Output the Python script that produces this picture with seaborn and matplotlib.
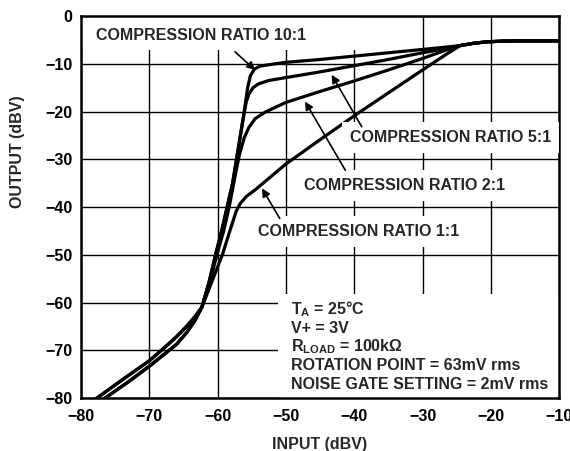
import matplotlib
matplotlib.use("Agg")
import matplotlib.pyplot as plt
from matplotlib.patches import Rectangle
import pandas as pd
import seaborn as sns

# values (input dBV, output dBV)
x_10 = [-77.7, -74, -70, -68, -66, -64.5, -63.3, -62.3, -61.2, -60.3, -59.4, -58.6, -57.8, -57.0,
        -56.2, -55.6, -55.2, -54.6, -53.8, -52, -50, -45, -40, -35, -30, -26.5, -24.5, -22.5,
        -20.5, -18, -15, -10]
y_10 = [-80, -76.3, -72.2, -69.8, -67.2, -65.0, -63.0, -61.0, -55.5, -50, -45, -40, -35, -28,
        -21, -15, -12.5, -11.1, -10.5, -10.1, -9.7, -9.1, -8.4, -7.7, -7.0, -6.5, -6.2, -5.7,
        -5.4, -5.25, -5.2, -5.2]

x_5 = [-77.6, -74, -70, -68, -66, -64.5, -63.3, -62.3, -61.2, -60.3, -59.4, -58.6, -57.8, -57.0,
       -56.2, -55.8, -55.4, -54.8, -54.0, -52.5, -50, -45, -40, -35, -30, -26.5, -24.5, -22.5,
       -20.5, -18, -15, -10]
y_5 = [-80, -76.2, -72.2, -69.7, -67.1, -64.9, -62.9, -61.0, -55.5, -50, -45, -40, -35, -28,
       -21, -18, -16.3, -15.0, -14.2, -13.5, -12.9, -11.7, -10.4, -9.1, -7.7, -6.8, -6.2, -5.7,
       -5.4, -5.25, -5.2, -5.2]

x_2 = [-76.5, -73, -70, -68, -66, -64.5, -63.3, -62.3, -61.1, -60.1, -59.1, -58.3, -57.5, -56.8,
       -56.1, -55.4, -54.5, -53, -50, -45, -40, -35, -30, -26.5, -24.5, -22.5, -20.5, -18, -15,
       -10]
y_2 = [-80, -76.6, -73.4, -71.1, -68.8, -66.3, -63.8, -61.0, -55.5, -50, -45, -40, -34, -29,
       -25.5, -23.3, -21.5, -20.1, -18.1, -15.8, -13.6, -11.3, -8.9, -7.1, -6.2, -5.7, -5.4,
       -5.25, -5.2, -5.2]

x_1 = [-76.4, -73, -70, -68, -66, -64.5, -63.3, -62.3, -60.8, -59.3, -58.2, -57.3, -56.7, -55.8,
       -54.5, -53, -50, -45, -40, -35, -30, -26.5, -24.5, -22.5, -20.5, -18, -15, -10]
y_1 = [-80, -76.5, -73.3, -71.0, -68.7, -66.2, -63.7, -61.0, -55.5, -50, -45, -41, -39.3, -37.8,
       -36.4, -34.6, -31.0, -25.9, -20.9, -16.1, -11.3, -8.0, -6.2, -5.7, -5.4, -5.25, -5.2, -5.2]

ratios = ["10:1", "5:1", "2:1", "1:1"]
x_ticks = [-80, -70, -60, -50, -40, -30, -20, -10]
y_ticks = [-80, -70, -60, -50, -40, -30, -20, -10, 0]

conditions = ["T$_\\mathrm{A}$ = 25°C", "V+ = 3V", "R$_\\mathrm{LOAD}$ = 100kΩ",
              "ROTATION POINT = 63mV rms", "NOISE GATE SETTING = 2mV rms"]

frames = []
for name, xs, ys in zip(ratios, [x_10, x_5, x_2, x_1], [y_10, y_5, y_2, y_1]):
    frames.append(pd.DataFrame({"input": xs, "output": ys, "ratio": name}))
df = pd.concat(frames, ignore_index=True)

sns.set_theme(style="white")
plt.rcParams["font.family"] = ["Liberation Sans", "DejaVu Sans"]
plt.rcParams["font.weight"] = "bold"
plt.rcParams["mathtext.fontset"] = "custom"
plt.rcParams["mathtext.rm"] = "Liberation Sans:bold"
plt.rcParams["mathtext.bf"] = "Liberation Sans:bold"
plt.rcParams["mathtext.it"] = "Liberation Sans:bold"

fs = 11.5

fig = plt.figure(figsize=(5.7, 4.51), dpi=100)
ax = fig.add_axes([0.142, 0.1175, 0.839, 0.847])

sns.lineplot(data=df, x="input", y="output", hue="ratio", units="ratio", estimator=None,
             sort=False, palette={r: "black" for r in ratios}, lw=2.3, legend=False, ax=ax)

ax.set_xlim(-80, -10)
ax.set_ylim(-80, 0)
ax.set_xticks(x_ticks)
ax.set_yticks(y_ticks)
ax.set_axisbelow(True)
ax.grid(True, color="black", lw=1.0)
for s in ax.spines.values():
    s.set_visible(True)
    s.set_color("black")
    s.set_linewidth(1.8)
ax.tick_params(axis="both", length=0, labelsize=fs, colors="black")
ax.tick_params(axis="x", pad=8)
ax.tick_params(axis="y", pad=6)
for lab in ax.get_xticklabels() + ax.get_yticklabels():
    lab.set_fontweight("bold")
ax.set_xlabel("")
ax.set_ylabel("")

fig.text(320 / 570, 1 - 444 / 451, "INPUT (dBV)", ha="center", va="center",
         fontsize=fs, fontweight="bold")
fig.text(18 / 570, 1 - 152 / 451, "OUTPUT (dBV)", ha="center", va="center", rotation=90,
         fontsize=fs, fontweight="bold")

# white areas that break the grid behind the labels
ax.add_patch(Rectangle((-80, -7.1), 41, 7.1, fc="white", ec="none", zorder=1))
ax.add_patch(Rectangle((-51.2, -80), 41.2, 21.7, fc="white", ec="none", zorder=1))

box = dict(fc="white", ec="none", boxstyle="square,pad=0.5")
ax.text(-77.8, -4.0, "COMPRESSION RATIO 10:1", ha="left", va="center", fontsize=fs,
        fontweight="bold", zorder=3)
ax.text(-40.6, -25.5, "COMPRESSION RATIO 5:1", ha="left", va="center", fontsize=fs,
        fontweight="bold", bbox=box, zorder=3)
ax.text(-47.3, -35.4, "COMPRESSION RATIO 2:1", ha="left", va="center", fontsize=fs,
        fontweight="bold", bbox=box, zorder=3)
ax.text(-54.1, -45.2, "COMPRESSION RATIO 1:1", ha="left", va="center", fontsize=fs,
        fontweight="bold", bbox=box, zorder=3)

arrows = [((-54.5, -11.3), (-57.45, -7.5)),
          ((-43.3, -12.3), (-38.9, -23.2)),
          ((-47.2, -17.9), (-41.3, -32.3)),
          ((-53.5, -36.1), (-50.9, -42.4))]
for tip, start in arrows:
    ax.annotate("", xy=tip, xytext=start, zorder=4,
                arrowprops=dict(arrowstyle="-|>", color="black", lw=1.2,
                                mutation_scale=12, shrinkA=0, shrinkB=0))

cond_y = [-61.4, -65.5, -69.3, -73.2, -77.2]
for txt, yy in zip(conditions, cond_y):
    ax.text(-49.3, yy, txt, ha="left", va="center", fontsize=fs, fontweight="bold", zorder=3)

fig.savefig("out.png", dpi=100)
